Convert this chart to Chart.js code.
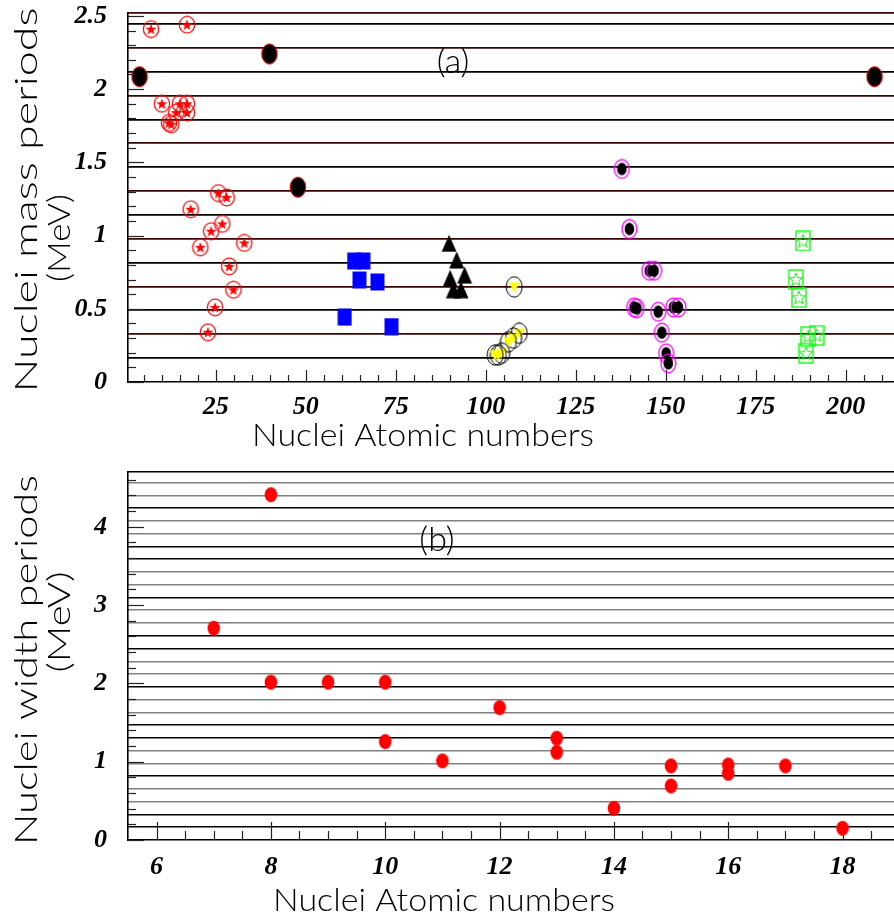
<!DOCTYPE html>
<html>
<head>
<meta charset="utf-8">
<script src="https://cdn.jsdelivr.net/npm/chart.js@4.4.0/dist/chart.umd.min.js"></script>
<style>
html, body { margin: 0; padding: 0; background: #fff; }
#wrap { position: relative; width: 894px; height: 920px; }
canvas { position: absolute; left: 0; }
#chartA { top: 0; }
#chartB { top: 460px; }
</style>
</head>
<body>
<div id="wrap">
  <canvas id="chartA" width="894" height="460"></canvas>
  <canvas id="chartB" width="894" height="460"></canvas>
</div>
<script>
// ---- panel (a): mass periods vs atomic number ----
const starX = [7, 17, 10, 15, 17, 14, 17, 12, 12.6, 18, 25.7, 28, 26.8, 23.7, 20.7, 32.9, 28.7, 29.9, 24.8, 22.8];
const starY = [2.41, 2.44, 1.90, 1.90, 1.90, 1.84, 1.84, 1.77, 1.76, 1.18, 1.29, 1.26, 1.08, 1.03, 0.92, 0.95, 0.79, 0.63, 0.51, 0.34];
const dotX = [3.8, 39.9, 47.8, 208];
const dotY = [2.085, 2.24, 1.33, 2.085];
const squareX = [63.4, 66, 64.9, 69.9, 60.8, 73.8];
const squareY = [0.826, 0.826, 0.697, 0.683, 0.443, 0.379];
const triX = [89.8, 91.9, 94.1, 90.1, 91, 93.1];
const triY = [0.947, 0.833, 0.73, 0.708, 0.63, 0.63];
const yellowX = [107.9, 109.3, 107.7, 106.3, 104.4, 103.5, 102.6];
const yellowY = [0.65, 0.333, 0.30, 0.275, 0.196, 0.184, 0.184];
const ringX = [137.8, 139.9, 145.4, 146.75, 141.2, 141.9, 147.9, 148.9, 152.1, 153.5, 150.1, 150.7];
const ringY = [1.455, 1.045, 0.76, 0.76, 0.51, 0.503, 0.48, 0.337, 0.51, 0.51, 0.196, 0.128];
const greenX = [188.1, 186.1, 187, 189.6, 191.9, 189];
const greenY = [0.963, 0.70, 0.576, 0.31, 0.32, 0.196];

// ---- panel (b): width periods vs atomic number ----
const widthX = [7, 8, 8, 9, 10, 10, 11, 12, 13, 13, 14, 15, 15, 16, 16, 17, 18];
const widthY = [2.705, 4.41, 2.015, 2.015, 2.015, 1.257, 1.01, 1.69, 1.30, 1.12, 0.405, 0.946, 0.69, 0.958, 0.852, 0.946, 0.15];

// tick labels
const massXLabels = [25, 50, 75, 100, 125, 150, 175, 200];
const massYLabels = [0, 0.5, 1, 1.5, 2, 2.5];
const widthXLabels = [6, 8, 10, 12, 14, 16, 18];
const widthYLabels = [0, 1, 2, 3, 4];

// spacing of the horizontal period lines (MeV)
const levelStep = 0.163;

const pts = (xs, ys) => xs.map((x, i) => ({ x: x, y: ys[i] }));
const near = (v, list) => list.some(l => Math.abs(l - v) < 1e-6);

function stepTicks(from, to, step) {
    const t = [];
    const n = Math.round((to - from) / step);
    for (let i = 0; i <= n; i++) t.push({ value: +(from + i * step).toFixed(4) });
    return t;
}

// little canvases used as point styles
function marker(w, h, draw) {
    const c = document.createElement('canvas');
    c.width = w; c.height = h;
    draw(c.getContext('2d'), w / 2, h / 2);
    return c;
}
function starPath(g, cx, cy, R, r) {
    g.beginPath();
    for (let i = 0; i < 10; i++) {
        const a = -Math.PI / 2 + i * Math.PI / 5;
        const rad = i % 2 ? r : R;
        g.lineTo(cx + rad * Math.cos(a), cy + rad * Math.sin(a));
    }
    g.closePath();
}
function ellipse(g, cx, cy, rx, ry) {
    g.beginPath();
    g.ellipse(cx, cy, rx, ry, 0, 0, Math.PI * 2);
}

const mkStar = marker(18, 19, (g, cx, cy) => {
    ellipse(g, cx, cy, 7.7, 8.3); g.strokeStyle = '#ff0000'; g.lineWidth = 1.2; g.stroke();
    starPath(g, cx, cy + 0.5, 5.8, 2.4); g.fillStyle = '#ff0000'; g.fill();
});
const mkDot = marker(18, 23, (g, cx, cy) => {
    ellipse(g, cx, cy, 7.8, 10); g.fillStyle = '#000'; g.fill();
    g.strokeStyle = '#ff0000'; g.lineWidth = 1; g.stroke();
});
const mkSquare = marker(15, 18, (g) => {
    g.fillStyle = '#0000ff'; g.fillRect(0.5, 0.5, 14, 17);
});
const mkTri = marker(16, 18, (g) => {
    g.beginPath(); g.moveTo(8, 0.5); g.lineTo(15.5, 17.5); g.lineTo(0.5, 17.5); g.closePath();
    g.fillStyle = '#000'; g.fill();
});
const mkYellow = marker(18, 22, (g, cx, cy) => {
    g.beginPath(); g.moveTo(cx - 5.5, cy - 4.5); g.lineTo(cx + 5.5, cy - 4.5); g.lineTo(cx, cy + 5.5); g.closePath();
    g.fillStyle = '#ffff00'; g.fill();
    ellipse(g, cx, cy, 8, 10.2); g.strokeStyle = '#000'; g.lineWidth = 1; g.stroke();
});
const mkRing = marker(17, 21, (g, cx, cy) => {
    ellipse(g, cx, cy, 4.8, 6.2); g.fillStyle = '#000'; g.fill();
    ellipse(g, cx, cy, 7.4, 9.4); g.strokeStyle = '#ff00ff'; g.lineWidth = 1.3; g.stroke();
});
const mkGreen = marker(16, 21, (g, cx, cy) => {
    g.strokeStyle = '#00ff00'; g.lineWidth = 1.3;
    g.strokeRect(1, 1, 14, 19);
    starPath(g, cx, cy + 0.5, 7, 2.9); g.lineWidth = 1; g.stroke();
});
const mkRed = marker(14, 17, (g, cx, cy) => {
    ellipse(g, cx, cy, 6.3, 7.6); g.fillStyle = '#ff0000'; g.fill();
});

// ticks drawn inside the frame, long ones at labelled values
const innerTicks = {
    id: 'innerTicks',
    beforeDatasetsDraw(chart, args, opts) {
        const { ctx, chartArea: a, scales } = chart;
        ctx.save();
        ctx.strokeStyle = '#222';
        ctx.lineWidth = 1.2;
        scales.x.ticks.forEach(t => {
            const px = Math.round(scales.x.getPixelForValue(t.value)) + 0.5;
            const len = near(t.value, opts.xMajor) ? opts.xLen[0] : opts.xLen[1];
            ctx.beginPath(); ctx.moveTo(px, a.bottom); ctx.lineTo(px, a.bottom - len); ctx.stroke();
        });
        scales.y.ticks.forEach(t => {
            const py = Math.round(scales.y.getPixelForValue(t.value)) + 0.5;
            const len = near(t.value, opts.yMajor) ? opts.yLen[0] : opts.yLen[1];
            ctx.beginPath(); ctx.moveTo(a.left, py); ctx.lineTo(a.left + len, py); ctx.stroke();
        });
        ctx.restore();
    }
};

// axis titles and panel tags
const texts = {
    id: 'texts',
    afterDraw(chart, args, opts) {
        const ctx = chart.ctx;
        opts.items.forEach(it => {
            ctx.save();
            ctx.translate(it.x, it.y);
            if (it.rot) ctx.rotate(it.rot);
            ctx.font = it.font;
            ctx.fillStyle = '#000';
            ctx.textAlign = 'center';
            ctx.textBaseline = it.base || 'alphabetic';
            if (it.width) {
                const w = ctx.measureText(it.text).width;
                ctx.scale(it.width / w, 1);
            }
            ctx.fillText(it.text, 0, 0);
            ctx.restore();
        });
    }
};

const tickFont = { family: "'Liberation Serif', 'Times New Roman', serif", size: 26, style: 'italic', weight: 'bold', lineHeight: 1 };
const titleFamily = "Lato, 'Open Sans', 'DejaVu Sans', sans-serif";

function levelAxis(max, colorFn, width) {
    return {
        position: 'right', min: 0, max: max,
        afterBuildTicks: s => {
            const t = [];
            for (let k = 1; k * levelStep < s.max - 0.02; k++) t.push({ value: k * levelStep });
            t.push({ value: s.max });
            s.ticks = t;
        },
        afterFit: s => { s.width = 0; s.paddingTop = 0; s.paddingBottom = 0; },
        ticks: { display: false },
        border: { display: false },
        grid: { drawTicks: false, color: colorFn, lineWidth: width }
    };
}

function baseOptions(o) {
    return {
        responsive: false,
        animation: false,
        events: [],
        layout: { autoPadding: false, padding: { top: o.top, right: 0, left: 0, bottom: 0 } },
        plugins: {
            legend: { display: false },
            tooltip: { enabled: false },
            innerTicks: o.inner,
            texts: { items: o.texts }
        },
        scales: {
            x: {
                type: 'linear', min: o.xMin, max: o.xMax,
                afterBuildTicks: s => { s.ticks = stepTicks(o.xFrom, o.xTo, o.xStep); },
                afterFit: s => { s.height = o.xHeight; s.paddingLeft = 0; s.paddingRight = 0; },
                grid: { display: false, drawTicks: false },
                border: { display: true, color: '#000', width: 1.6 },
                ticks: {
                    autoSkip: false, maxRotation: 0, padding: o.xPad, color: '#000', font: tickFont,
                    callback: v => near(v, o.xLabels) ? String(v) : ''
                }
            },
            y: {
                type: 'linear', min: 0, max: o.yMax,
                afterBuildTicks: s => { s.ticks = stepTicks(0, o.yTo, o.yStep); },
                afterFit: s => { s.width = 128; s.paddingTop = 0; s.paddingBottom = 0; },
                grid: { display: false, drawTicks: false },
                border: { display: true, color: '#000', width: 1.6 },
                ticks: {
                    autoSkip: false, padding: 21, color: '#000', font: tickFont,
                    callback: v => near(v, o.yLabels) ? String(v) : ''
                }
            },
            lv: levelAxis(o.yMax, o.levelColor, o.levelWidth)
        }
    };
}

function ds(data, style) {
    return { data: data, pointStyle: style, pointRadius: 8, showLine: false, clip: false };
}

new Chart(document.getElementById('chartA'), {
    type: 'scatter',
    data: {
        datasets: [
            ds(pts(dotX, dotY), mkDot),
            ds(pts(starX, starY), mkStar),
            ds(pts(squareX, squareY), mkSquare),
            ds(pts(triX, triY), mkTri),
            ds(pts(yellowX, yellowY), mkYellow),
            ds(pts(ringX, ringY), mkRing),
            ds(pts(greenX, greenY), mkGreen)
        ]
    },
    options: baseOptions({
        top: 13, xMin: 0.6, xMax: 213.4, xFrom: 5, xTo: 210, xStep: 5, xHeight: 78, xPad: 12,
        xLabels: massXLabels, yMax: 2.52, yTo: 2.5, yStep: 0.1, yLabels: massYLabels,
        levelColor: c => c.index % 2 ? '#3a0505' : '#000', levelWidth: 1.8,
        inner: { xMajor: massXLabels, yMajor: massYLabels, xLen: [12, 7], yLen: [16, 8] },
        texts: [
            { text: 'Nuclei Atomic numbers', x: 423, y: 446, font: '300 32px ' + titleFamily, width: 342 },
            { text: 'Nuclei mass periods', x: 37, y: 200, rot: -Math.PI / 2, font: '300 31px ' + titleFamily, width: 385 },
            { text: '(MeV)', x: 70, y: 238, rot: -Math.PI / 2, font: '300 31px ' + titleFamily, width: 88 },
            { text: '(a)', x: 453, y: 62, font: '300 34px ' + titleFamily, base: 'middle' }
        ]
    }),
    plugins: [innerTicks, texts]
});

new Chart(document.getElementById('chartB'), {
    type: 'scatter',
    data: {
        datasets: [ds(pts(widthX, widthY), mkRed)]
    },
    options: baseOptions({
        top: 12, xMin: 5.5, xMax: 18.9, xFrom: 6, xTo: 18.5, xStep: 0.5, xHeight: 80, xPad: 14,
        xLabels: widthXLabels, yMax: 4.7, yTo: 4.6, yStep: 0.2, yLabels: widthYLabels,
        levelColor: c => [1, 2, 5].includes((c.index + 1) % 7) ? '#000' : '#808080', levelWidth: 1.6,
        inner: { xMajor: widthXLabels, yMajor: widthYLabels, xLen: [18, 9], yLen: [16, 8] },
        texts: [
            { text: 'Nuclei Atomic numbers', x: 444, y: 451, font: '300 32px ' + titleFamily, width: 342 },
            { text: 'Nuclei width periods', x: 37, y: 200, rot: -Math.PI / 2, font: '300 31px ' + titleFamily, width: 370 },
            { text: '(MeV)', x: 70, y: 162, rot: -Math.PI / 2, font: '300 31px ' + titleFamily, width: 101 },
            { text: '(b)', x: 437, y: 80, font: '300 34px ' + titleFamily, base: 'middle' }
        ]
    }),
    plugins: [innerTicks, texts]
});
</script>
</body>
</html>
